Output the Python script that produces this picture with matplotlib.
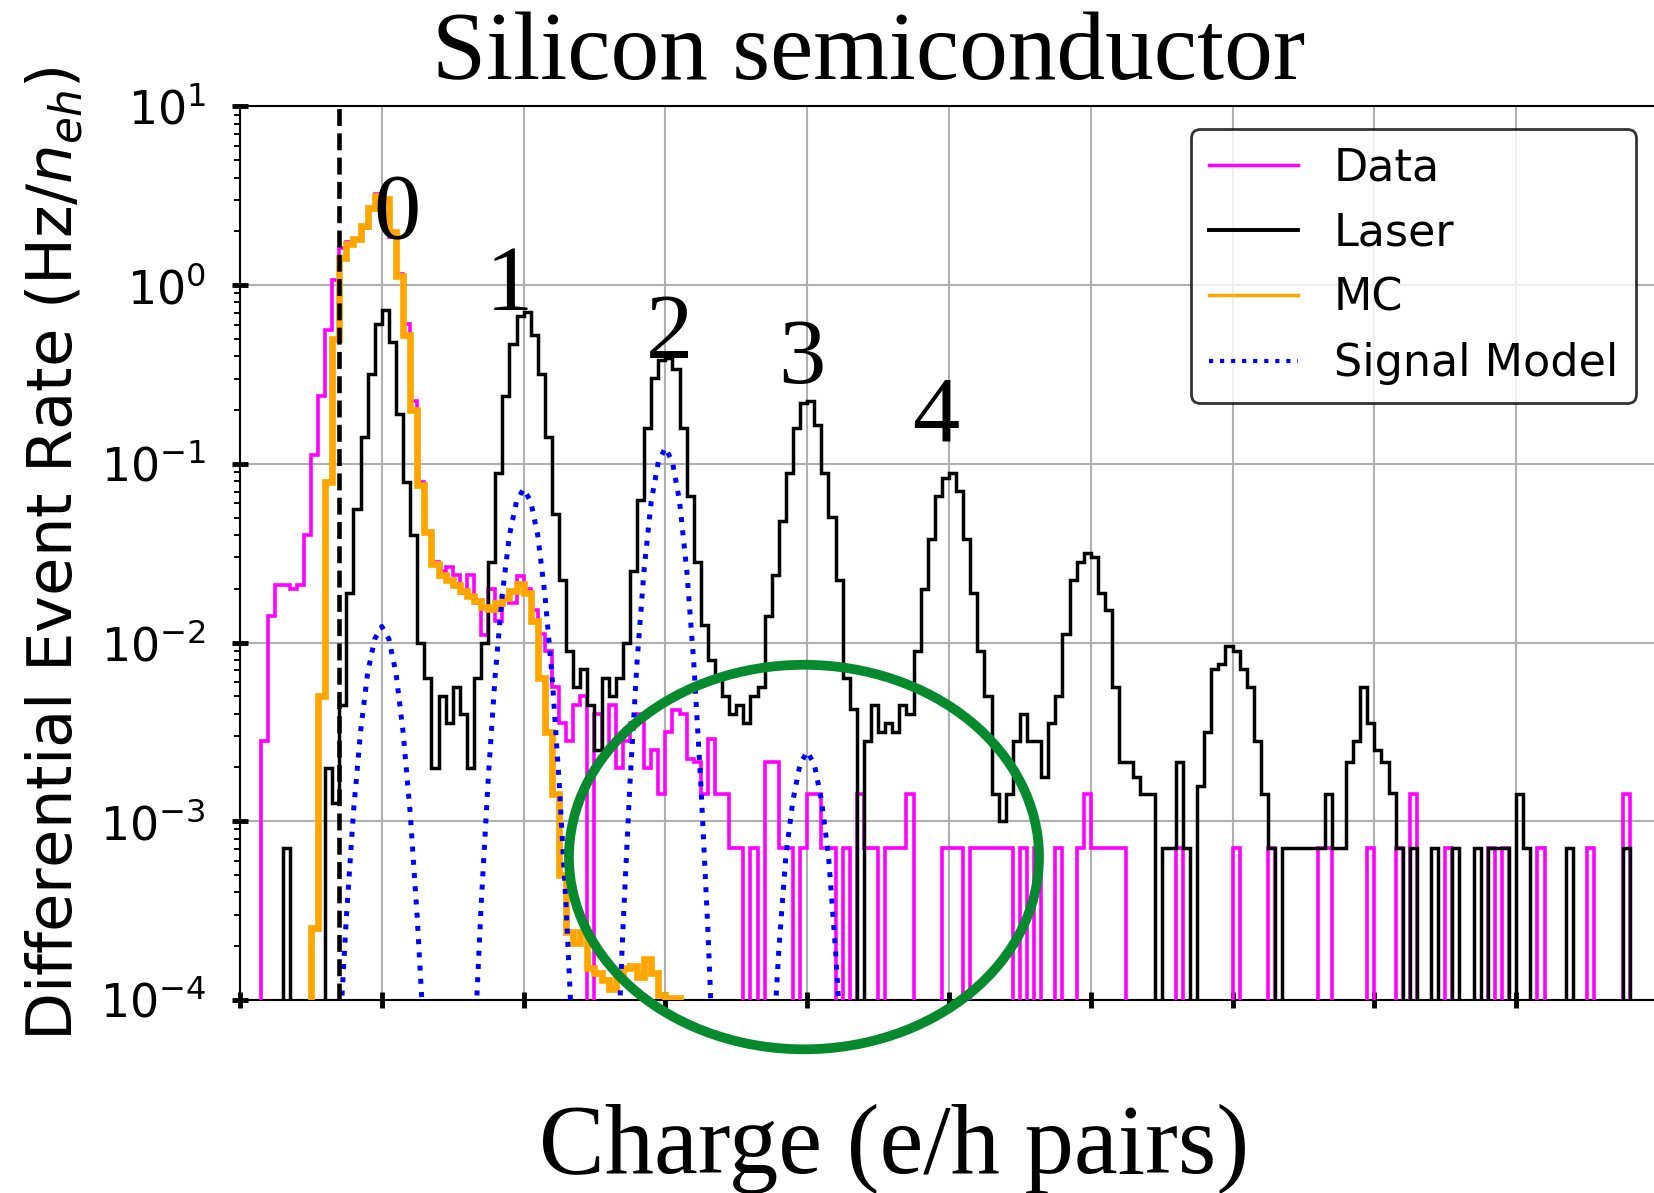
import numpy as np
import matplotlib
matplotlib.use("Agg")
import matplotlib.pyplot as plt
from matplotlib.patches import Ellipse
from matplotlib.lines import Line2D

NA = np.nan

# histogram binning, 0.05 e/h pairs per bin over the plotted range
binEdges = np.round(np.arange(-1.0, 9.0 + 1e-9, 0.05), 3)

# log10 of the differential rate per bin (NA = empty bin), one row per e/h pair
dataLog = [
    NA, NA, NA, -2.55, -1.85, -1.68, -1.68, -1.70, -1.68, -1.40, -0.95, -0.62, -0.25, 0.03, 0.21, 0.24, 0.25, 0.32, 0.43, 0.51,
    0.47, 0.27, 0.06, -0.22, -0.65, -1.10, -1.38, -1.55, -1.60, -1.58, -1.62, -1.72, -1.62, -1.78, -1.96, -1.70, -1.88, -1.75, -1.78, -1.63,
    -1.70, -1.82, -1.95, -2.05, -2.25, -2.45, -2.55, -2.35, -2.30, NA, -2.40, -2.60, -2.35, -2.70, -2.55, -2.45, -2.40, -2.70, -2.60, -2.85,
    -2.50, -2.38, -2.40, -2.65, -2.67, -2.85, -2.54, -2.85, -2.85, -3.15, -3.15, NA, -3.15, NA, -2.67, -2.67, -3.15, -3.15, NA, -3.15,
    -2.85, -2.85, -3.15, -3.15, NA, -3.15, NA, -2.85, -3.15, -3.15, NA, -3.15, -3.15, -3.15, -2.85, NA, NA, NA, NA, -3.15,
    -3.15, -3.15, NA, -3.15, -3.15, -3.15, -3.15, -3.15, -3.15, NA, -3.15, NA, -3.15, NA, NA, -3.15, NA, NA, -3.15, -2.85,
    -3.15, -3.15, -3.15, -3.15, -3.15, NA, NA, NA, NA, NA, NA, NA, -3.15, NA, NA, NA, NA, NA, NA, NA,
    -3.15, NA, NA, NA, NA, -3.15, NA, NA, NA, NA, NA, NA, -3.15, -3.15, NA, NA, NA, NA, NA, -3.15,
    NA, NA, NA, -3.15, NA, -2.85, NA, NA, NA, NA, -3.15, NA, NA, NA, NA, NA, -3.15, NA, -3.15, NA,
    NA, NA, NA, -3.15, NA, NA, NA, NA, NA, NA, -3.15, NA, NA, NA, NA, -2.85, NA, NA, NA, NA,
]

laserLog = [
    NA, NA, NA, NA, NA, NA, -3.15, NA, NA, NA, NA, NA, -2.70, -2.90, -2.35, -1.72, -1.25, -0.85, -0.50, -0.22,
    -0.14, -0.32, -0.72, -1.10, -1.40, -2.00, -2.20, -2.70, -2.30, -2.45, -2.25, -2.40, -2.70, -2.20, -2.00, -1.55, -1.05, -0.62, -0.33, -0.17,
    -0.15, -0.28, -0.50, -0.85, -1.28, -1.65, -2.05, -2.25, -2.15, -2.35, -2.60, -2.20, -2.30, -2.20, -2.00, -1.60, -1.20, -0.80, -0.52, -0.42,
    -0.41, -0.47, -0.80, -1.18, -1.55, -1.90, -2.10, -2.20, -2.30, -2.40, -2.35, -2.45, -2.30, -2.25, -1.85, -1.62, -1.32, -1.05, -0.80, -0.66,
    -0.65, -0.78, -1.05, -1.30, -1.65, -2.20, -2.37, NA, -2.55, -2.35, -2.50, -2.45, -2.50, -2.35, -2.40, -2.05, -1.70, -1.42, -1.18, -1.08,
    -1.05, -1.15, -1.42, -1.72, -2.05, -2.30, -2.85, -3.00, -2.85, -2.55, -2.40, -2.55, -2.55, -2.75, -2.45, -2.30, -1.95, -1.65, -1.55, -1.50,
    -1.52, -1.72, -1.82, -2.25, -2.67, -2.67, -2.75, -2.85, -2.85, NA, -3.15, -3.15, -2.67, -3.15, NA, -2.80, -2.50, -2.15, -2.12, -2.02,
    -2.05, -2.15, -2.25, -2.55, -2.85, -3.15, NA, -3.15, -3.15, -3.15, -3.15, -3.15, -3.15, -2.85, -3.15, -3.15, -2.67, -2.55, -2.25, -2.45,
    -2.60, -2.67, -2.84, -3.15, NA, -3.15, NA, NA, -3.15, NA, NA, -3.15, NA, NA, -3.15, NA, -3.15, -3.15, -3.15, NA,
    -2.85, -3.15, NA, NA, NA, NA, NA, -3.15, NA, NA, NA, NA, NA, NA, NA, -3.15, NA, NA, NA, NA,
]

mcLog = [
    NA, NA, NA, NA, NA, NA, NA, NA, NA, NA, -3.60, -2.30, -1.10, -0.30, 0.15, 0.23, 0.26, 0.33, 0.43, 0.50,
    0.48, 0.30, 0.05, -0.28, -0.70, -1.12, -1.38, -1.56, -1.62, -1.65, -1.68, -1.71, -1.74, -1.77, -1.80, -1.81, -1.78, -1.75, -1.71, -1.67,
    -1.72, -1.88, -2.20, -2.50, -2.85, -3.30, -3.62, -3.68, -3.62, -3.82, -3.85, -3.89, -3.94, -3.86, -3.82, -3.81, -3.87, -3.77, -3.85, -3.97,
    -3.99, -3.99, NA, NA, NA, NA, NA, NA, NA, NA, NA, NA, NA, NA, NA, NA, NA, NA, NA, NA,
] + [NA] * 120

# signal model curve, sampled every 0.05 e/h pairs
signalX = np.round(np.arange(-0.40, 3.35 + 1e-9, 0.05), 3)
signalLog = [
    -6.07, -5.10, -4.25, -3.54, -2.95, -2.50, -2.17, -1.98, -1.91, -1.98, -2.17, -2.50, -2.95, -3.54, -4.25, -5.10, -6.07,
    -7.18, -7.64, -6.40, -5.30, -4.33, -3.48, -2.77, -2.18, -1.73, -1.40, -1.21, -1.14, -1.21, -1.40, -1.73, -2.18, -2.77, -3.48, -4.33, -5.30, -6.40, -7.64,
    -6.99, -5.71, -4.59, -3.61, -2.79, -2.11, -1.59, -1.21, -0.99, -0.91, -0.99, -1.21, -1.59, -2.11, -2.79, -3.61, -4.59, -5.71, -6.99, -8.40,
    -8.30, -7.15, -6.10, -5.20, -4.40, -3.72, -3.19, -2.88, -2.68, -2.61, -2.68, -2.88, -3.19, -3.72, -4.40, -5.20, -6.10,
]

peakLabels = ['0', '1', '2', '3', '4']
seriesNames = ['Data', 'Laser', 'MC', 'Signal Model']

SERIF = 'Liberation Serif'


################################################
def toRate(logValues):
    vals = np.power(10.0, np.array(logValues, dtype=float))
    # empty bins are pushed far below the axis so the step drops to the floor
    return np.where(np.isnan(vals), 1e-7, vals)


################################################
def makePlot():
    fig = plt.figure(figsize=(16.54, 11.93), dpi=100)
    ax = fig.add_axes([0.1451, 0.1618, 0.8573, 0.749])

    ax.stairs(toRate(dataLog), binEdges, baseline=None, color='magenta', lw=2.6, zorder=3)
    ax.stairs(toRate(laserLog), binEdges, baseline=None, color='black', lw=2.5, zorder=4)
    ax.stairs(toRate(mcLog), binEdges, baseline=None, color='orange', lw=4.8, zorder=5)
    ax.plot(signalX, toRate(signalLog), color='blue', ls=':', lw=3.6, zorder=6)

    # threshold marker
    ax.axvline(-0.3, color='black', ls='--', lw=3.3, zorder=7)

    ax.set_yscale('log')
    ax.set_xlim(-1, 9)
    ax.set_ylim(1e-4, 10)
    ax.set_xticks(range(-1, 10))
    ax.set_xticklabels([])

    ax.tick_params(axis='both', which='major', direction='inout', length=11, width=3.5,
                   labelsize=33, pad=19)
    ax.tick_params(axis='y', which='minor', direction='out', length=4, width=1.4)
    ax.tick_params(axis='x', which='minor', bottom=False)
    for sp in ax.spines.values():
        sp.set_linewidth(1.5)

    ax.grid(True, which='major', color='#b0b0b0', lw=1.5)
    ax.set_axisbelow(True)

    ax.set_ylabel(r'Differential Event Rate (Hz/$n_{eh}$)', fontsize=45, labelpad=10)
    ax.set_xlabel('Charge (e/h pairs)', family=SERIF, fontsize=71)
    ax.xaxis.set_label_coords(0.461, -0.1936)
    ax.xaxis.label.set_va('baseline')

    fig.text(0.525, 0.934, 'Silicon semiconductor', family=SERIF, fontsize=70,
             ha='center', va='baseline')

    # number of e/h pairs above each peak
    labelPos = [(0.11, 0.39), (0.90, -0.015), (2.03, -0.28), (2.96, -0.42), (3.91, -0.745)]
    for lab, (x, ly) in zip(peakLabels, labelPos):
        ax.text(x, 10 ** ly, lab, family=SERIF, fontsize=68, ha='center', va='center', zorder=8)

    handles = [Line2D([], [], color='magenta', lw=2.5),
               Line2D([], [], color='black', lw=2.8),
               Line2D([], [], color='orange', lw=2.5),
               Line2D([], [], color='blue', lw=3, ls=':')]
    leg = ax.legend(handles, seriesNames, loc='upper right', fontsize=32, edgecolor='black')
    leg.get_frame().set_linewidth(2)
    leg.set_zorder(10)

    # highlight region with the single-pair signal
    fig.add_artist(Ellipse((0.4861, 0.2816), 0.2842, 0.3223, transform=fig.transFigure,
                           fill=False, ec='#078a2e', lw=7, zorder=20))

    fig.savefig('out.png', dpi=100)


if __name__ == '__main__':
    makePlot()
